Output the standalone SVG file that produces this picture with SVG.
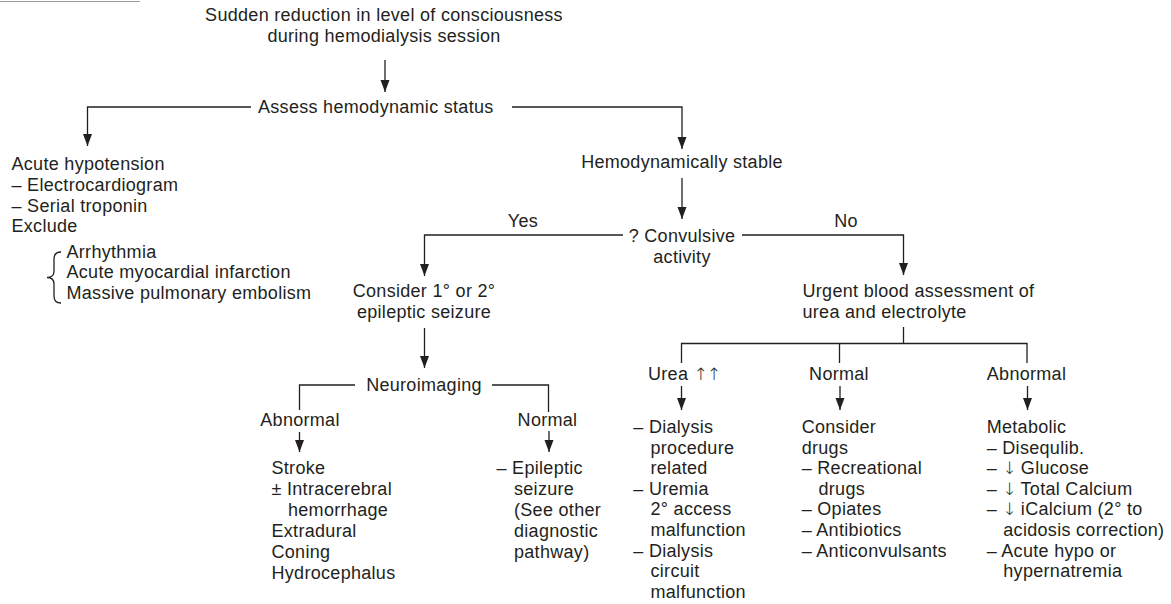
<svg xmlns="http://www.w3.org/2000/svg" width="1171" height="604" viewBox="0 0 1171 604">
<style>
text{font-family:"Liberation Sans",Arial,sans-serif;font-size:18px;letter-spacing:0.3px;fill:#231f20}
.c{text-anchor:middle}
.ar{font-family:"DejaVu Sans ExtraLight","DejaVu Sans",sans-serif;font-weight:200;font-size:17px;letter-spacing:-1px}
.ln{fill:none;stroke:#231f20;stroke-width:1.3}
</style>
<defs>
<marker id="ah" markerUnits="userSpaceOnUse" markerWidth="12" markerHeight="10" refX="12" refY="4.5" orient="auto">
<path d="M0,0 L12,4.5 L0,9 z" fill="#231f20"/>
</marker>
</defs>
<rect width="1171" height="604" fill="#fff"/>
<line x1="0" y1="1.5" x2="140" y2="1.5" stroke="#9a9a9a" stroke-width="1"/>
<g id="connectors">
<path class="ln" d="M385,60 V92" marker-end="url(#ah)"/>
<path class="ln" d="M251,107 H87.5 V146" marker-end="url(#ah)"/>
<path class="ln" d="M512,107 H682 V149" marker-end="url(#ah)"/>
<path class="ln" d="M682,178 V219" marker-end="url(#ah)"/>
<path class="ln" d="M623,235 H424.5 V276" marker-end="url(#ah)"/>
<path class="ln" d="M742,235 H903.5 V275" marker-end="url(#ah)"/>
<path class="ln" d="M424.5,328 V368" marker-end="url(#ah)"/>
<path class="ln" d="M355,385 H299.5 V410"/>
<path class="ln" d="M492,385 H548.5 V412"/>
<path class="ln" d="M299.5,432 V452" marker-end="url(#ah)"/>
<path class="ln" d="M549,431 V452" marker-end="url(#ah)"/>
<path class="ln" d="M903.5,327 V343.5"/>
<path class="ln" d="M681.5,363 V343.5 H1027 V363"/>
<path class="ln" d="M839.5,343.5 V363"/>
<path class="ln" d="M681.5,386 V410" marker-end="url(#ah)"/>
<path class="ln" d="M840,386 V410" marker-end="url(#ah)"/>
<path class="ln" d="M1027.5,386 V410" marker-end="url(#ah)"/>
</g>
<g id="start"><text class="c" x="384" y="20.5">Sudden reduction in level of consciousness</text><text class="c" x="384" y="41.5">during hemodialysis session</text></g>
<g id="assess"><text x="258" y="113">Assess hemodynamic status</text></g>
<g id="hypotension">
<text x="11.5" y="170">Acute hypotension</text>
<text x="11.5" y="191">– Electrocardiogram</text>
<text x="11.5" y="211.5">– Serial troponin</text>
<text x="11.5" y="232">Exclude</text>
<path class="ln" d="M61,252 Q54,252 54,259 V271 Q54,277.5 47,277.5 Q54,277.5 54,284 V296 Q54,303 61,303" stroke-width="1"/>
<text x="66.5" y="257.5">Arrhythmia</text>
<text x="66.5" y="278">Acute myocardial infarction</text>
<text x="66.5" y="299">Massive pulmonary embolism</text>
</g>
<g id="stable"><text class="c" x="682" y="168">Hemodynamically stable</text></g>
<g id="convulsive"><text class="c" x="682" y="241.5">? Convulsive</text><text class="c" x="682" y="262.5">activity</text></g>
<g id="yes"><text class="c" x="523" y="227">Yes</text></g>
<g id="no"><text class="c" x="846" y="227">No</text></g>
<g id="seizure"><text class="c" x="424" y="297">Consider 1° or 2°</text><text class="c" x="424" y="318">epileptic seizure</text></g>
<g id="urgent"><text x="802.5" y="297">Urgent blood assessment of</text><text x="802.5" y="318">urea and electrolyte</text></g>
<g id="neuro"><text class="c" x="424" y="391">Neuroimaging</text></g>
<g id="neuro-abn"><text class="c" x="300" y="426">Abnormal</text></g>
<g id="neuro-norm"><text class="c" x="547.5" y="426">Normal</text></g>
<g id="stroke">
<text x="271.5" y="474">Stroke</text>
<text x="271.5" y="495">± Intracerebral</text>
<text x="288" y="516">hemorrhage</text>
<text x="271.5" y="537">Extradural</text>
<text x="271.5" y="557.5">Coning</text>
<text x="271.5" y="578.5">Hydrocephalus</text>
</g>
<g id="epileptic">
<text x="496.5" y="474">– Epileptic</text>
<text x="514" y="495">seizure</text>
<text x="514" y="516">(See other</text>
<text x="514" y="537">diagnostic</text>
<text x="514" y="557.5">pathway)</text>
</g>
<g id="urea"><text x="648" y="380">Urea <tspan class="ar">↑↑</tspan></text></g>
<g id="normal"><text class="c" x="839" y="380">Normal</text></g>
<g id="abnormal"><text class="c" x="1026.5" y="380">Abnormal</text></g>
<g id="dialysis">
<text x="633.3" y="433">– Dialysis</text>
<text x="650.5" y="453.6">procedure</text>
<text x="650.5" y="474.2">related</text>
<text x="633.3" y="494.8">– Uremia</text>
<text x="650.5" y="515.4">2° access</text>
<text x="650.5" y="536">malfunction</text>
<text x="633.3" y="556.6">– Dialysis</text>
<text x="650.5" y="577.2">circuit</text>
<text x="650.5" y="597.8">malfunction</text>
</g>
<g id="drugs">
<text x="801.7" y="433">Consider</text>
<text x="801.7" y="453.6">drugs</text>
<text x="801.7" y="474.2">– Recreational</text>
<text x="818.5" y="494.8">drugs</text>
<text x="801.7" y="515.4">– Opiates</text>
<text x="801.7" y="536">– Antibiotics</text>
<text x="801.7" y="556.6">– Anticonvulsants</text>
</g>
<g id="metabolic">
<text x="986.7" y="433">Metabolic</text>
<text x="986.7" y="453.6">– Disequlib.</text>
<text x="986.7" y="474.2">– <tspan class="ar">↓</tspan> Glucose</text>
<text x="986.7" y="494.8">– <tspan class="ar">↓</tspan> Total Calcium</text>
<text x="986.7" y="515.4">– <tspan class="ar">↓</tspan> iCalcium (2° to</text>
<text x="1003.3" y="536">acidosis correction)</text>
<text x="986.7" y="556.6">– Acute hypo or</text>
<text x="1003.3" y="577.2">hypernatremia</text>
</g>
</svg>
